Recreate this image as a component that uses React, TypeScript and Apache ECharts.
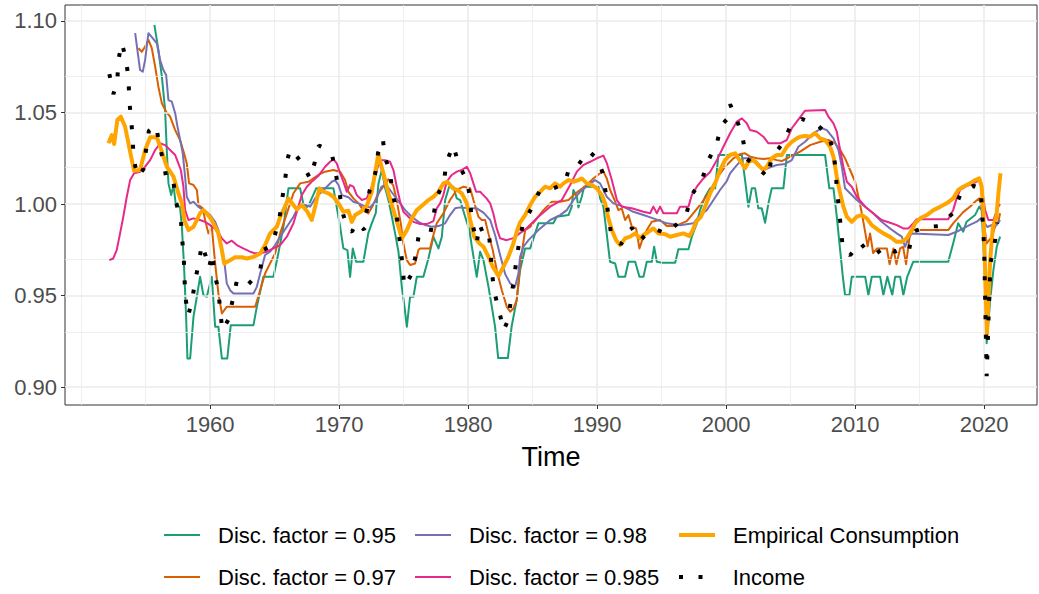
import React, { useEffect, useRef } from "react";
import * as echarts from "echarts";

const xTicks = [1960, 1970, 1980, 1990, 2000, 2010, 2020];
const xMinor = [1950, 1955, 1965, 1975, 1985, 1995, 2005, 2015];
const yTicks = [0.9, 0.95, 1.0, 1.05, 1.1];
const yMinor = [0.925, 0.975, 1.025, 1.075];

const seriesNames = [
  "Disc. factor = 0.95",
  "Disc. factor = 0.97",
  "Disc. factor = 0.98",
  "Disc. factor = 0.985",
  "Empirical Consumption",
  "Income",
];

const disc095: [number, number][] = [
  [1955.68,1.0978],[1955.99,1.0842],[1956.26,1.0696],[1956.51,1.0514],[1956.64,1.0295],[1956.77,1.0113],[1956.98,1.0049],[1957.16,1.0104],[1957.36,0.9985],[1957.67,0.9985],[1957.81,0.9876],[1957.98,0.9658],[1958.14,0.9384],[1958.24,0.9157],[1958.45,0.9157],[1958.71,0.9384],[1958.97,0.9494],[1959.22,0.9603],[1959.48,0.9503],[1959.74,0.9494],[1960.13,0.9603],[1960.39,0.933],[1960.64,0.933],[1960.91,0.9157],[1961.33,0.9157],[1961.6,0.9339],[1963.36,0.9339],[1963.62,0.9439],[1964.13,0.9603],[1964.91,0.9603],[1965.29,0.9731],[1965.68,0.9876],[1966.07,1.0086],[1966.98,1.0086],[1967.22,1.0004],[1967.36,0.9977],[1967.62,0.999],[1968.22,1.0086],[1969.56,1.0086],[1969.81,0.9985],[1970.08,0.9876],[1970.33,0.9758],[1970.64,0.9749],[1970.85,0.9603],[1971.06,0.9758],[1971.32,0.9685],[1971.88,0.9685],[1972.26,0.984],[1972.53,0.9895],[1972.84,0.995],[1973.05,1.0113],[1973.31,1.0186],[1973.57,1.0086],[1973.82,1.0022],[1974.09,0.9931],[1974.34,0.984],[1974.6,0.974],[1974.86,0.9548],[1975.07,0.9439],[1975.25,0.933],[1975.5,0.9494],[1975.76,0.9494],[1976.02,0.9603],[1976.53,0.9603],[1976.92,0.9703],[1977.31,0.9821],[1977.7,0.9758],[1977.96,0.9821],[1978.22,1.0022],[1978.53,1.0095],[1978.86,1.0095],[1979.12,1.0031],[1979.38,1.0022],[1979.77,0.9931],[1980.1,0.9858],[1980.29,0.9767],[1980.67,0.9603],[1980.93,0.974],[1981.19,0.9694],[1981.58,0.9548],[1981.84,0.9439],[1982.09,0.933],[1982.33,0.9159],[1983.08,0.9159],[1983.37,0.933],[1983.76,0.9475],[1984.03,0.964],[1984.42,0.9758],[1984.81,0.9758],[1985.45,0.9895],[1986.6,0.9895],[1986.87,0.9931],[1987.78,0.994],[1988.03,0.9985],[1988.16,1.0077],[1988.43,1.004],[1988.55,0.9982],[1988.81,1.004],[1988.99,1.0095],[1990.1,1.0095],[1990.23,1.0031],[1990.49,0.9985],[1990.74,0.984],[1991.0,0.9685],[1991.4,0.9676],[1991.65,0.9603],[1992.17,0.9603],[1992.43,0.9685],[1992.95,0.9685],[1993.28,0.9603],[1993.59,0.9603],[1993.85,0.9685],[1994.24,0.9685],[1994.42,0.9767],[1994.63,0.9685],[1995.02,0.968],[1996.05,0.968],[1996.3,0.9753],[1997.08,0.9753],[1997.34,0.9822],[1997.73,0.9895],[1997.98,0.9967],[1998.37,1.004],[1998.76,1.0086],[1999.15,1.0086],[1999.4,1.0268],[2001.22,1.0268],[2001.47,1.0131],[2001.73,0.9985],[2001.99,1.0086],[2002.25,1.0086],[2002.5,0.9977],[2002.76,0.9977],[2003.02,0.9898],[2003.28,1.0004],[2003.54,1.0086],[2004.44,1.0086],[2004.71,1.0268],[2007.67,1.0268],[2008.0,1.0086],[2008.32,1.0086],[2008.58,0.9931],[2008.84,0.9749],[2009.05,0.9603],[2009.22,0.9503],[2009.56,0.9503],[2009.74,0.9603],[2010.78,0.9603],[2011.03,0.9503],[2011.29,0.9603],[2011.94,0.9603],[2012.19,0.9503],[2012.5,0.9603],[2012.88,0.9503],[2013.1,0.9603],[2013.49,0.9603],[2013.74,0.9503],[2014.04,0.9603],[2014.5,0.9685],[2017.22,0.9685],[2017.6,0.9785],[2017.99,0.9895],[2018.38,0.9849],[2018.64,0.9904],[2019.3,0.994],[2019.62,0.9986],[2019.81,0.9967],[2020.0,0.9694],[2020.2,0.924],[2020.47,0.9475],[2020.72,0.964],[2020.98,0.9767],[2021.24,0.9822],
];

const disc097: [number, number][] = [
  [1954.44,1.0851],[1954.71,1.0832],[1954.96,1.086],[1955.22,1.0896],[1955.48,1.0851],[1955.74,1.075],[1955.99,1.0641],[1956.26,1.055],[1956.59,1.0504],[1956.9,1.0477],[1957.29,1.0404],[1957.67,1.035],[1957.98,1.0277],[1958.19,1.0222],[1958.37,1.0113],[1958.71,1.0104],[1958.97,1.0077],[1959.1,0.9995],[1959.43,0.9977],[1959.61,0.9913],[1959.87,0.984],[1960.13,0.9876],[1960.39,0.9676],[1960.64,0.9512],[1960.91,0.9403],[1961.29,0.9439],[1963.49,0.9439],[1963.88,0.953],[1964.26,0.9621],[1964.65,0.9676],[1965.04,0.9731],[1965.43,0.984],[1965.95,0.9949],[1966.46,1.0059],[1966.98,1.0113],[1967.62,1.0122],[1968.38,1.0159],[1968.91,1.0177],[1969.55,1.0186],[1970.08,1.0177],[1970.46,1.0131],[1970.72,1.0067],[1971.11,1.0031],[1971.5,1.0004],[1971.88,0.9967],[1972.26,0.9949],[1972.64,0.9995],[1973.03,1.0059],[1973.42,1.0095],[1973.81,1.0135],[1974.19,1.0104],[1974.46,1.0022],[1974.78,0.9895],[1974.98,0.9785],[1975.25,0.9694],[1975.5,0.9667],[1975.89,0.9676],[1976.15,0.9749],[1976.28,0.9758],[1977.05,0.9758],[1977.31,0.9831],[1977.57,0.9895],[1978.08,0.9949],[1978.6,1.0022],[1979.12,1.0077],[1979.64,1.0095],[1980.16,1.0086],[1980.41,1.0022],[1980.8,0.9931],[1981.06,0.9913],[1981.32,0.9913],[1981.57,0.984],[1981.91,0.9749],[1982.22,0.9639],[1982.61,0.953],[1983.0,0.9439],[1983.26,0.9412],[1983.51,0.943],[1983.77,0.9475],[1984.05,0.968],[1984.42,0.9858],[1984.81,0.9876],[1985.33,0.9922],[1985.84,0.9967],[1986.49,1.0013],[1987.13,1.0013],[1987.78,1.0022],[1988.17,1.0049],[1988.68,1.0077],[1989.2,1.0104],[1989.71,1.014],[1990.23,1.0168],[1990.49,1.0177],[1990.75,1.014],[1991.01,1.0077],[1991.4,1.0013],[1991.65,0.9967],[1991.91,0.9977],[1992.17,0.9913],[1992.43,0.994],[1992.69,0.9876],[1993.02,0.9867],[1993.28,0.9758],[1993.59,0.9822],[1993.85,0.9858],[1994.24,0.9904],[1994.88,0.9913],[1995.4,0.988],[1996.05,0.988],[1996.95,0.9907],[1997.34,0.994],[1997.98,0.9995],[1998.63,1.0059],[1999.28,1.014],[1999.92,1.0204],[2000.57,1.025],[2001.09,1.0273],[2001.47,1.0277],[2001.86,1.0259],[2002.38,1.025],[2002.89,1.0246],[2003.41,1.025],[2003.93,1.024],[2004.32,1.0235],[2004.71,1.025],[2005.22,1.0268],[2005.74,1.0286],[2006.51,1.0322],[2007.29,1.034],[2007.93,1.035],[2008.45,1.0332],[2008.84,1.0295],[2009.22,1.025],[2009.61,1.0186],[2010.0,1.0122],[2010.26,1.004],[2010.52,0.995],[2010.78,0.9847],[2010.97,0.977],[2011.16,0.984],[2011.4,0.9733],[2011.71,0.9758],[2012.46,0.9758],[2012.67,0.9672],[2012.97,0.9758],[2013.2,0.9672],[2013.49,0.9758],[2013.72,0.9767],[2013.95,0.9672],[2014.26,0.984],[2014.5,0.9858],[2017.22,0.9858],[2017.6,0.9895],[2018.38,0.9956],[2018.9,0.9985],[2019.3,1.0013],[2019.63,1.0031],[2019.81,0.9985],[2020.0,0.9886],[2020.2,0.9785],[2020.6,0.9822],[2020.85,0.9876],[2021.1,0.9904],[2021.24,0.995],
];

const disc098: [number, number][] = [
  [1954.19,1.0933],[1954.36,1.0842],[1954.57,1.0732],[1954.78,1.0723],[1954.96,1.0787],[1955.22,1.0933],[1955.56,1.0905],[1955.87,1.0878],[1956.12,1.0787],[1956.38,1.0732],[1956.59,1.0705],[1956.77,1.0568],[1957.03,1.0559],[1957.29,1.0496],[1957.47,1.0423],[1957.73,1.0332],[1957.88,1.0277],[1958.06,1.0149],[1958.19,1.004],[1958.45,1.0004],[1958.71,1.0013],[1959.09,0.9985],[1959.48,0.9967],[1960.0,0.994],[1960.39,0.9903],[1960.64,0.9858],[1960.83,0.9785],[1961.09,0.9694],[1961.29,0.9567],[1961.55,0.953],[1961.81,0.9512],[1963.36,0.9512],[1963.62,0.9548],[1963.88,0.9621],[1964.26,0.9722],[1964.65,0.974],[1965.04,0.9776],[1965.43,0.9822],[1965.95,0.9876],[1966.46,0.9931],[1966.84,0.9985],[1967.36,0.9995],[1967.75,0.9986],[1968.14,1.0031],[1968.53,1.0059],[1969.05,1.0095],[1969.43,1.0122],[1969.69,1.0131],[1969.95,1.0104],[1970.21,1.0049],[1970.72,1.0037],[1971.11,1.0013],[1971.5,1.0004],[1971.88,0.9991],[1972.4,0.9982],[1972.79,1.0013],[1973.12,1.0067],[1973.29,1.0095],[1973.63,1.0104],[1973.95,1.0077],[1974.34,1.004],[1974.73,1.0004],[1975.12,0.9967],[1975.63,0.9931],[1976.15,0.9903],[1976.67,0.9885],[1977.19,0.9876],[1977.7,0.988],[1978.22,0.9895],[1978.6,0.994],[1978.99,0.9977],[1979.38,0.9982],[1980.16,0.9977],[1980.67,0.9977],[1981.19,0.9953],[1981.71,0.9913],[1982.09,0.9831],[1982.48,0.9722],[1982.87,0.9618],[1983.26,0.9567],[1983.64,0.9548],[1983.9,0.9621],[1984.03,0.9712],[1984.29,0.9767],[1984.68,0.9803],[1985.45,0.9858],[1986.36,0.9913],[1987.13,0.994],[1987.65,0.9967],[1988.16,1.0022],[1988.68,1.0067],[1989.33,1.0104],[1989.84,1.0131],[1990.23,1.0113],[1990.75,1.004],[1991.26,1.0004],[1992.04,0.9986],[1992.81,0.9958],[1993.59,0.994],[1994.36,0.9922],[1995.4,0.9895],[1996.43,0.9885],[1997.46,0.9895],[1997.98,0.994],[1998.5,0.9967],[1999.02,1.0022],[1999.53,1.0077],[2000.05,1.0125],[2000.31,1.0168],[2000.83,1.0213],[2001.34,1.025],[2001.86,1.025],[2002.38,1.0231],[2002.89,1.0186],[2003.41,1.0201],[2003.93,1.0213],[2004.57,1.0219],[2005.09,1.024],[2005.6,1.0313],[2006.12,1.034],[2006.77,1.0387],[2007.42,1.0414],[2007.81,1.0404],[2008.32,1.0359],[2008.71,1.0295],[2008.97,1.0204],[2009.22,1.0086],[2009.61,1.0059],[2010.13,1.0022],[2010.78,0.9986],[2011.4,0.995],[2012.06,0.9904],[2012.71,0.9867],[2013.23,0.984],[2013.62,0.9822],[2013.87,0.9767],[2014.13,0.9813],[2014.39,0.984],[2017.22,0.9831],[2017.87,0.9849],[2018.38,0.9867],[2018.9,0.9886],[2019.43,0.9904],[2019.74,0.9922],[2020.0,0.99],[2020.25,0.9875],[2020.6,0.9886],[2020.98,0.9886],[2021.24,0.9913],
];

const disc0985: [number, number][] = [
  [1952.18,0.9694],[1952.49,0.9703],[1952.76,0.9749],[1953.02,0.984],[1953.27,0.9931],[1953.54,1.004],[1953.8,1.0131],[1954.11,1.0168],[1954.57,1.0177],[1954.96,1.0204],[1955.35,1.024],[1955.74,1.0295],[1956.12,1.0332],[1956.51,1.0322],[1956.9,1.0295],[1957.29,1.0268],[1957.54,1.0222],[1957.73,1.0186],[1957.93,1.0095],[1958.06,0.9967],[1958.32,0.9913],[1958.71,0.9922],[1959.22,0.9913],[1959.61,0.9903],[1960.0,0.9885],[1960.52,0.9858],[1960.91,0.9813],[1961.29,0.9785],[1961.68,0.98],[1962.07,0.9776],[1962.57,0.9758],[1963.1,0.974],[1963.49,0.9731],[1963.88,0.9731],[1964.4,0.974],[1964.91,0.9758],[1965.43,0.9776],[1965.95,0.9822],[1966.46,0.9895],[1966.84,0.9986],[1967.11,1.0049],[1967.5,1.0095],[1967.87,1.0122],[1968.38,1.0153],[1968.91,1.0204],[1969.3,1.0231],[1969.56,1.0244],[1969.82,1.0222],[1970.08,1.0168],[1970.33,1.0122],[1970.6,1.0067],[1970.85,1.0104],[1971.11,1.0095],[1971.37,1.0049],[1971.76,1.0022],[1972.14,1.0031],[1972.53,1.0095],[1972.92,1.0186],[1973.18,1.024],[1973.55,1.024],[1973.95,1.0231],[1974.21,1.0186],[1974.47,1.0095],[1974.73,1.0013],[1974.98,0.9958],[1975.37,0.9931],[1975.76,0.9903],[1976.28,0.9891],[1976.8,0.9891],[1977.31,0.9907],[1977.57,0.9977],[1977.83,1.0004],[1978.08,1.0049],[1978.34,1.0122],[1978.73,1.0159],[1979.12,1.0177],[1979.5,1.0186],[1979.9,1.0204],[1980.16,1.0168],[1980.41,1.0113],[1980.62,1.0067],[1980.93,1.0067],[1981.19,1.0049],[1981.43,1.0031],[1981.71,1.0004],[1981.95,0.995],[1982.22,0.9867],[1982.48,0.9813],[1982.98,0.9803],[1983.5,0.9814],[1984.0,0.984],[1984.54,0.9868],[1985.45,0.9931],[1986.36,0.9986],[1987.26,1.0022],[1987.91,1.0104],[1988.43,1.0177],[1988.92,1.0213],[1989.46,1.0231],[1989.98,1.025],[1990.49,1.0265],[1990.75,1.0224],[1991.14,1.0131],[1991.53,1.0022],[1991.91,0.9986],[1992.69,0.9977],[1993.59,0.9958],[1994.11,0.995],[1994.36,0.9986],[1994.63,0.995],[1994.88,0.9986],[1995.14,0.995],[1996.18,0.995],[1996.43,0.9986],[1997.08,0.9986],[1997.34,1.0049],[1997.73,1.0095],[1998.24,1.014],[1998.76,1.0175],[1999.28,1.024],[1999.79,1.0313],[2000.31,1.0387],[2000.83,1.045],[2001.22,1.0468],[2001.6,1.0441],[2001.86,1.0404],[2002.38,1.0395],[2002.89,1.0368],[2003.28,1.0332],[2004.19,1.0332],[2004.71,1.035],[2005.09,1.0414],[2005.48,1.045],[2006.12,1.051],[2007.67,1.0514],[2007.93,1.0477],[2008.32,1.0441],[2008.58,1.0395],[2008.84,1.0295],[2009.09,1.0204],[2009.36,1.0122],[2009.74,1.0095],[2010.13,1.004],[2010.78,0.9986],[2011.4,0.995],[2012.06,0.9913],[2012.71,0.9898],[2013.23,0.9885],[2013.74,0.9867],[2014.13,0.9867],[2014.5,0.9895],[2014.77,0.9917],[2017.22,0.9917],[2017.6,0.9967],[2017.87,1.0031],[2018.14,1.0077],[2018.66,1.0099],[2019.17,1.0113],[2019.63,1.0131],[2019.84,1.0077],[2020.08,0.9967],[2020.33,0.9913],[2020.72,0.9913],[2021.1,0.9986],[2021.24,1.0],
];

const consumption: [number, number][] = [
  [1952.12,1.0332],[1952.38,1.0377],[1952.56,1.0328],[1952.81,1.046],[1953.08,1.0477],[1953.41,1.0422],[1953.67,1.0332],[1953.93,1.024],[1954.11,1.0182],[1954.57,1.0186],[1954.96,1.0295],[1955.35,1.0365],[1955.87,1.0365],[1956.26,1.0286],[1956.64,1.0204],[1957.16,1.015],[1957.54,1.0059],[1957.81,1.0004],[1958.0,0.9913],[1958.32,0.9858],[1958.71,0.9876],[1958.97,0.9913],[1959.22,0.995],[1959.48,0.9967],[1959.74,0.995],[1960.13,0.9913],[1960.39,0.9876],[1960.64,0.984],[1960.91,0.9749],[1961.09,0.9676],[1961.55,0.9694],[1961.94,0.971],[1962.46,0.971],[1962.84,0.9703],[1963.36,0.9712],[1963.88,0.973],[1964.26,0.9776],[1964.65,0.984],[1965.17,0.9876],[1965.43,0.993],[1965.68,0.9967],[1966.07,1.003],[1966.46,0.9995],[1966.72,0.9971],[1967.11,0.9995],[1967.54,0.9958],[1967.88,0.9913],[1968.14,0.9986],[1968.47,1.0086],[1968.78,1.0068],[1969.17,1.0059],[1969.56,1.004],[1969.95,1.0004],[1970.33,0.9958],[1970.72,0.9964],[1970.98,0.9903],[1971.24,0.994],[1971.67,0.9958],[1972.14,0.9989],[1972.53,1.0067],[1972.92,1.0222],[1973.05,1.0277],[1973.18,1.0231],[1973.43,1.0168],[1973.82,1.0059],[1974.21,0.9967],[1974.6,0.9876],[1974.86,0.9813],[1975.25,0.9858],[1975.64,0.9922],[1976.02,0.9967],[1976.49,0.9995],[1976.92,1.0022],[1977.31,1.004],[1977.7,1.0067],[1978.08,1.0113],[1978.39,1.0122],[1978.81,1.0086],[1979.17,1.0077],[1979.51,1.0059],[1979.9,1.0004],[1980.16,0.9913],[1980.47,0.9821],[1980.88,0.9785],[1981.19,0.9767],[1981.58,0.9712],[1981.91,0.9658],[1982.35,0.9607],[1982.74,0.9658],[1983.12,0.9712],[1983.51,0.9785],[1983.77,0.9849],[1984.03,0.99],[1984.42,0.994],[1984.81,0.9995],[1985.19,1.004],[1985.58,1.0067],[1985.97,1.0095],[1986.36,1.0086],[1986.74,1.0113],[1987.13,1.0095],[1987.39,1.0113],[1987.78,1.0131],[1988.17,1.0122],[1988.55,1.0131],[1988.81,1.014],[1989.2,1.0113],[1989.59,1.0104],[1989.98,1.0086],[1990.36,1.0049],[1990.62,1.0004],[1990.88,0.9922],[1991.14,0.9858],[1991.47,0.9803],[1991.78,0.9776],[1992.17,0.9813],[1992.56,0.9822],[1992.95,0.984],[1993.33,0.9813],[1993.59,0.9831],[1993.98,0.9849],[1994.36,0.9867],[1994.75,0.984],[1995.27,0.9836],[1995.66,0.9822],[1996.18,0.9831],[1996.69,0.984],[1997.16,0.9825],[1997.42,0.9858],[1997.67,0.9903],[1998.04,0.993],[1998.37,0.9985],[1998.76,1.0059],[1999.15,1.0113],[1999.53,1.0186],[1999.92,1.024],[2000.31,1.0268],[2000.7,1.0277],[2000.95,1.025],[2001.22,1.0222],[2001.47,1.0195],[2001.73,1.0231],[2002.12,1.024],[2002.5,1.0213],[2002.89,1.0186],[2003.15,1.0204],[2003.54,1.025],[2003.93,1.0268],[2004.32,1.0268],[2004.71,1.0313],[2005.09,1.034],[2005.48,1.0359],[2005.74,1.0368],[2006.12,1.0372],[2006.51,1.0368],[2006.9,1.0387],[2007.29,1.0359],[2007.67,1.035],[2008.06,1.0313],[2008.32,1.0259],[2008.58,1.0149],[2008.84,1.0059],[2009.09,0.9986],[2009.36,0.9931],[2009.74,0.9903],[2010.13,0.9931],[2010.52,0.994],[2010.91,0.9922],[2011.29,0.9885],[2011.81,0.9858],[2012.19,0.984],[2012.71,0.9821],[2013.23,0.9794],[2013.62,0.9794],[2014.0,0.9813],[2014.39,0.9858],[2014.65,0.9895],[2015.04,0.9922],[2015.56,0.994],[2016.07,0.9967],[2016.59,0.9985],[2017.1,1.0004],[2017.6,1.0031],[2017.99,1.0077],[2018.38,1.0095],[2018.9,1.0113],[2019.3,1.0131],[2019.62,1.014],[2019.81,1.0095],[2019.94,0.9967],[2020.02,0.9785],[2020.22,0.929],[2020.47,0.9694],[2020.68,0.9876],[2020.95,0.9931],[2021.1,1.005],[2021.27,1.0168],
];

const income: [number, number][] = [
  [1952.19,1.071],[1952.5,1.06],[1952.81,1.067],[1952.87,1.078],[1953.15,1.088],[1953.49,1.079],[1953.67,1.068],[1953.74,1.057],[1953.85,1.047],[1954.0,1.037],[1954.05,1.026],[1954.36,1.015],[1954.83,1.019],[1955.04,1.03],[1955.25,1.04],[1955.81,1.043],[1956.07,1.032],[1956.43,1.022],[1956.64,1.012],[1957.16,1.012],[1957.36,1.001],[1957.73,0.992],[1957.83,0.981],[1957.96,0.971],[1958.01,0.96],[1958.09,0.949],[1958.29,0.939],[1958.6,0.947],[1958.81,0.957],[1959.12,0.968],[1959.36,0.978],[1959.64,0.972],[1959.9,0.965],[1960.18,0.973],[1960.31,0.963],[1960.64,0.953],[1960.78,0.942],[1960.95,0.931],[1961.42,0.937],[1961.76,0.948],[1962.07,0.958],[1962.77,0.955],[1963.49,0.96],[1963.88,0.964],[1964.13,0.975],[1964.71,0.977],[1964.98,0.982],[1965.37,0.992],[1965.58,1.0025],[1965.81,1.013],[1965.99,1.024],[1966.2,1.03],[1967.08,1.023],[1967.75,1.014],[1968.12,1.023],[1968.43,1.032],[1969.01,1.03],[1969.48,1.026],[1969.92,1.01],[1970.33,0.994],[1970.67,0.986],[1971.0,0.985],[1971.37,0.99],[1971.94,0.986],[1972.35,1.007],[1972.81,1.017],[1973.02,1.028],[1973.39,1.0355],[1973.57,1.025],[1973.95,1.018],[1974.09,1.008],[1974.42,0.997],[1974.57,0.9865],[1974.78,0.976],[1974.91,0.966],[1975.06,0.955],[1975.56,0.961],[1975.91,0.971],[1976.15,0.982],[1977.05,0.983],[1977.31,0.9935],[1977.57,1.004],[1978.14,1.012],[1978.29,1.0226],[1978.86,1.032],[1979.24,1.022],[1979.9,1.013],[1980.16,1.003],[1980.26,0.992],[1980.67,0.9785],[1980.87,0.989],[1981.17,0.984],[1981.6,0.985],[1981.75,0.973],[1981.86,0.962],[1982.03,0.952],[1982.43,0.941],[1982.74,0.931],[1983.12,0.937],[1983.3,0.947],[1983.51,0.957],[1983.72,0.968],[1983.93,0.978],[1984.24,0.989],[1984.94,0.998],[1985.53,1.007],[1986.41,1.008],[1987.47,1.011],[1987.85,1.02],[1988.55,1.0215],[1989.33,1.029],[1989.98,1.025],[1990.44,1.017],[1990.67,1.006],[1990.83,0.996],[1991.06,0.985],[1991.84,0.978],[1992.69,0.987],[1993.33,0.98],[1993.98,0.985],[1994.63,0.986],[1995.27,0.984],[1996.18,0.989],[1996.95,0.9955],[1997.34,1.005],[1998.16,1.014],[1998.63,1.024],[1999.28,1.033],[1999.61,1.043],[2000.1,1.0465],[2000.31,1.0545],[2000.88,1.045],[2001.29,1.036],[2001.55,1.025],[2002.43,1.02],[2003.26,1.0146],[2003.51,1.025],[2004.36,1.033],[2004.96,1.042],[2005.53,1.044],[2005.87,1.0465],[2006.38,1.045],[2007.16,1.0426],[2007.93,1.0377],[2008.32,1.0286],[2008.5,1.018],[2008.58,1.008],[2008.76,0.997],[2008.89,0.987],[2009.05,0.976],[2009.61,0.972],[2010.39,0.979],[2011.03,0.9736],[2011.63,0.973],[2012.4,0.977],[2013.1,0.974],[2013.74,0.976],[2014.16,0.9745],[2014.5,0.985],[2015.54,0.9876],[2016.52,0.988],[2017.57,0.995],[2018.2,1.006],[2019.17,1.01],[2019.74,1.0086],[2019.9,0.989],[2020.0,0.977],[2020.2,0.906],[2020.39,0.948],[2020.5,0.968],[2020.85,0.98],[2021.02,0.99],
];

const colors = ["#1B9E77", "#D95F02", "#7570B3", "#E7298A", "#FFA500", "#000000"];
const seriesData = [disc095, disc097, disc098, disc0985, consumption, income];

const FONT = "'Liberation Sans', Arial, sans-serif";

export default function App() {
  const ref = useRef<HTMLDivElement>(null);
  useEffect(() => {
    if (!ref.current) return;
    const chart = echarts.init(ref.current, undefined, { renderer: "svg" });

    const gridMarks = [
      ...xMinor.map((v) => ({ xAxis: v, lineStyle: { color: "#EBEBEB", width: 0.8, type: "solid" } })),
      ...xTicks.map((v) => ({ xAxis: v, lineStyle: { color: "#EBEBEB", width: 1.6, type: "solid" } })),
      ...yMinor.map((v) => ({ yAxis: v, lineStyle: { color: "#EBEBEB", width: 0.8, type: "solid" } })),
      ...yTicks.map((v) => ({ yAxis: v, lineStyle: { color: "#EBEBEB", width: 1.6, type: "solid" } })),
    ];

    const dataSeries = seriesNames.map((name, i) => ({
      name,
      type: "line",
      data: seriesData[i],
      showSymbol: false,
      symbol: "none",
      z: 3 + i,
      lineStyle:
        i === 5
          ? { color: colors[i], width: 4, type: [4, 15.5], cap: "butt" }
          : { color: colors[i], width: i === 4 ? 4 : 2, cap: "butt", join: "round" },
      itemStyle: { color: colors[i] },
    }));

    // legend layout: 3 columns x 2 rows, filled column-wise
    const colLeft = [164, 415, 679];
    const rowTop = [524, 566];
    const legends = seriesNames.map((name, i) => {
      const col = Math.floor(i / 2);
      const row = i % 2;
      const isIncome = i === 5;
      const keyW = isIncome ? 24 : 36;
      return {
        data: [name],
        left: colLeft[col],
        top: rowTop[row],
        padding: 0,
        orient: "horizontal",
        icon: isIncome ? "path://M0,0L4,0L4,4L0,4Z M19.5,0L23.5,0L23.5,4L19.5,4Z" : "rect",
        itemWidth: keyW,
        itemHeight: isIncome ? 4 : i === 4 ? 4 : 2,
        itemStyle: { borderWidth: 0 },
        selectedMode: false,
        textStyle: {
          fontSize: 22,
          color: "#000",
          fontFamily: FONT,
          padding: [0, 0, 0, 54 - keyW - 5],
        },
      };
    });

    chart.setOption({
      animation: false,
      backgroundColor: "#FFFFFF",
      grid: {
        left: 65,
        right: 2,
        top: 5,
        bottom: 189,
        show: true,
        borderColor: "#333333",
        borderWidth: 1,
        backgroundColor: "#FFFFFF",
        containLabel: false,
      },
      legend: legends,
      xAxis: {
        type: "value",
        min: 1948.75,
        max: 2024.1,
        name: "Time",
        nameLocation: "middle",
        nameGap: 38,
        nameTextStyle: { fontSize: 27, color: "#000", fontFamily: FONT },
        axisLine: { show: false },
        axisTick: { show: true, customValues: xTicks, length: 4, lineStyle: { color: "#333333", width: 1 } },
        axisLabel: {
          customValues: xTicks,
          formatter: (v: number) => String(Math.round(v)),
          fontSize: 22,
          color: "#4D4D4D",
          fontFamily: FONT,
          margin: 8,
        },
        splitLine: { show: false },
      },
      yAxis: {
        type: "value",
        min: 0.8903,
        max: 1.1087,
        axisLine: { show: false },
        axisTick: { show: true, customValues: yTicks, length: 4, lineStyle: { color: "#333333", width: 1 } },
        axisLabel: {
          customValues: yTicks,
          formatter: (v: number) => v.toFixed(2),
          fontSize: 22,
          color: "#4D4D4D",
          fontFamily: FONT,
          margin: 8,
        },
        splitLine: { show: false },
      },
      series: [
        {
          name: "_grid",
          type: "line",
          data: [],
          z: 1,
          silent: true,
          symbol: "none",
          markLine: {
            silent: true,
            symbol: ["none", "none"],
            label: { show: false },
            emphasis: { disabled: true },
            animation: false,
            data: gridMarks,
          },
        },
        ...dataSeries,
      ],
    });
    return () => chart.dispose();
  }, []);
  return (
    <div
      ref={ref}
      style={{ position: "absolute", left: 0, top: 0, width: 1039, height: 594, background: "#fff" }}
    />
  );
}
